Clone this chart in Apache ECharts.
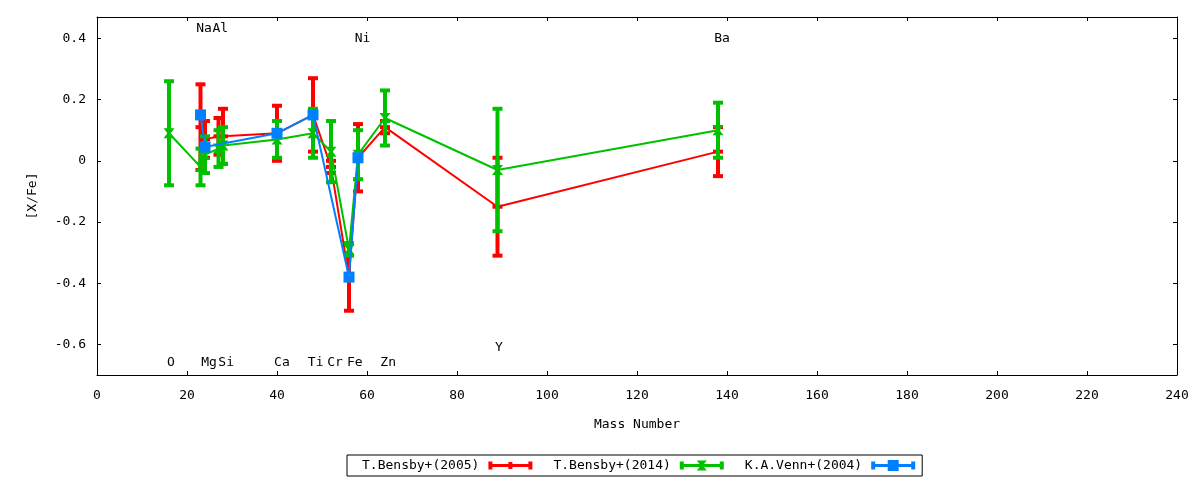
<!DOCTYPE html>
<html>
<head>
<meta charset="utf-8">
<script src="https://cdn.jsdelivr.net/npm/echarts@6/dist/echarts.min.js"></script>
<style>
  html, body { margin: 0; padding: 0; background: #fff; }
  #chart { width: 1200px; height: 480px; }
</style>
</head>
<body>
<div id="chart"></div>
<script>
// T.Bensby+(2005)
const redX = [23, 24, 27, 28, 40, 48, 52, 56, 58, 64, 89, 138];
const redY = [0.11, 0.07, 0.08, 0.08, 0.09, 0.15, -0.02, -0.38, 0.01, 0.11, -0.15, 0.03];
const redErr = [0.14, 0.06, 0.06, 0.09, 0.09, 0.12, 0.02, 0.11, 0.11, 0.02, 0.16, 0.08];

// T.Bensby+(2014)
const greenX = [16, 23, 24, 27, 28, 40, 48, 52, 56, 58, 64, 89, 138];
const greenY = [0.09, -0.02, 0.02, 0.04, 0.05, 0.07, 0.09, 0.03, -0.29, 0.02, 0.14, -0.03, 0.10];
const greenErr = [0.17, 0.06, 0.06, 0.06, 0.06, 0.06, 0.08, 0.10, 0.02, 0.08, 0.09, 0.20, 0.09];

// K.A.Venn+(2004)
const blueX = [23, 24, 40, 48, 56, 58];
const blueY = [0.15, 0.045, 0.09, 0.15, -0.38, 0.01];

// element labels
const labelNames = ['O', 'Na', 'Mg', 'Al', 'Si', 'Ca', 'Ti', 'Cr', 'Fe', 'Ni', 'Zn', 'Y', 'Ba'];
const labelX = [16.4, 23.8, 24.9, 27.4, 28.7, 41.1, 48.6, 52.9, 57.3, 59.0, 64.7, 89.3, 138.9];
const labelY = [-0.658, 0.432, -0.658, 0.432, -0.658, -0.658, -0.658, -0.658, -0.658, 0.40, -0.658, -0.611, 0.40];

const yTicks = [-0.6, -0.4, -0.2, 0, 0.2, 0.4];

const FONT = 'DejaVu Sans Mono';
const RED = '#ff0000', GREEN = '#00c000', BLUE = '#0080ff';

function errorBars(xs, ys, errs, color, z) {
  return {
    type: 'custom',
    z: z,
    silent: true,
    data: xs.map((x, i) => [x, ys[i] - errs[i], ys[i] + errs[i]]),
    encode: { x: 0, y: [1, 2] },
    renderItem: (params, api) => {
      const lo = api.coord([api.value(0), api.value(1)]);
      const hi = api.coord([api.value(0), api.value(2)]);
      const w = 5;
      const style = { stroke: color, lineWidth: 4 };
      return {
        type: 'group',
        children: [
          { type: 'line', shape: { x1: lo[0], y1: lo[1], x2: hi[0], y2: hi[1] }, style },
          { type: 'line', shape: { x1: lo[0] - w, y1: lo[1], x2: lo[0] + w, y2: lo[1] }, style },
          { type: 'line', shape: { x1: hi[0] - w, y1: hi[1], x2: hi[0] + w, y2: hi[1] }, style }
        ]
      };
    }
  };
}

const zip = (xs, ys) => xs.map((x, i) => [x, ys[i]]);

const barPath = 'M0,1.5H4V4H40V1.5H44V9.5H40V7H4V9.5H0Z';
const legendIcons = {
  red: 'path://' + barPath + 'M20,2H24V9H20Z',
  green: 'path://' + barPath + 'M17,0.5H27L23,5.5L27,10.5H17L21,5.5Z',
  blue: 'path://' + barPath + 'M16.5,0H27.5V11H16.5Z'
};

const axisLineStyle = { color: '#000', width: 1 };

const chart = echarts.init(document.getElementById('chart'));
chart.setOption({
  animation: false,
  backgroundColor: '#fff',
  textStyle: { fontFamily: FONT },
  grid: { left: 97, right: 23, top: 17, bottom: 105 },
  legend: {
    left: 347,
    top: 455,
    orient: 'horizontal',
    align: 'right',
    padding: [4, 7, 4, 15],
    itemGap: 21,
    itemWidth: 44,
    itemHeight: 11,
    borderColor: '#000',
    borderWidth: 1,
    borderRadius: 0,
    textStyle: { color: '#000', fontSize: 13, fontFamily: FONT, padding: [0, 4, 0, 0] },
    data: [
      { name: 'T.Bensby+(2005)', icon: legendIcons.red },
      { name: 'T.Bensby+(2014)', icon: legendIcons.green },
      { name: 'K.A.Venn+(2004)', icon: legendIcons.blue }
    ]
  },
  xAxis: [
    {
      type: 'value', min: 0, max: 240, interval: 20, position: 'bottom',
      name: 'Mass Number', nameLocation: 'middle', nameGap: 43,
      nameTextStyle: { color: '#000', fontSize: 13, fontFamily: FONT },
      axisLine: { show: true, onZero: false, lineStyle: axisLineStyle },
      axisTick: { show: true, inside: true, length: 4, lineStyle: axisLineStyle },
      axisLabel: { color: '#000', fontSize: 13, margin: 14, fontFamily: FONT },
      splitLine: { show: false }
    },
    {
      type: 'value', min: 0, max: 240, interval: 20, position: 'top',
      axisLine: { show: true, onZero: false, lineStyle: axisLineStyle },
      axisTick: { show: true, inside: true, length: 4, lineStyle: axisLineStyle },
      axisLabel: { show: false },
      splitLine: { show: false }
    }
  ],
  yAxis: [
    {
      type: 'value', min: -0.7, max: 0.47, position: 'left',
      name: '[X/Fe]', nameLocation: 'middle', nameGap: 58, nameRotate: 90,
      nameTextStyle: { color: '#000', fontSize: 13, fontFamily: FONT },
      axisLine: { show: true, onZero: false, lineStyle: axisLineStyle },
      axisTick: { show: true, inside: true, length: 4, lineStyle: axisLineStyle, customValues: yTicks },
      axisLabel: {
        color: '#000', fontSize: 13, margin: 11, fontFamily: FONT,
        customValues: yTicks,
        formatter: v => (Math.abs(v) < 1e-9 ? '0' : v.toFixed(1))
      },
      splitLine: { show: false }
    },
    {
      type: 'value', min: -0.7, max: 0.47, position: 'right',
      axisLine: { show: true, onZero: false, lineStyle: axisLineStyle },
      axisTick: { show: true, inside: true, length: 4, lineStyle: axisLineStyle, customValues: yTicks },
      axisLabel: { show: false },
      splitLine: { show: false }
    }
  ],
  series: [
    errorBars(redX, redY, redErr, RED, 2),
    {
      name: 'T.Bensby+(2005)', type: 'line', z: 3,
      data: zip(redX, redY),
      symbol: 'rect', symbolSize: [10, 4],
      itemStyle: { color: RED },
      lineStyle: { color: RED, width: 2 }
    },
    errorBars(greenX, greenY, greenErr, GREEN, 4),
    {
      name: 'T.Bensby+(2014)', type: 'line', z: 5,
      data: zip(greenX, greenY),
      symbol: 'path://M0,0H10L6.5,4.5L10,9H0L3.5,4.5Z', symbolSize: [11, 10],
      itemStyle: { color: GREEN },
      lineStyle: { color: GREEN, width: 2 }
    },
    {
      name: 'K.A.Venn+(2004)', type: 'line', z: 6,
      data: zip(blueX, blueY),
      symbol: 'rect', symbolSize: 11,
      itemStyle: { color: BLUE },
      lineStyle: { color: BLUE, width: 2 }
    },
    {
      type: 'custom', z: 7, silent: true,
      data: zip(labelX, labelY),
      encode: { x: 0, y: 1 },
      renderItem: (params, api) => {
        const p = api.coord([api.value(0), api.value(1)]);
        return {
          type: 'text', x: p[0], y: p[1],
          style: {
            text: labelNames[params.dataIndex], fill: '#000',
            fontSize: 13, fontFamily: FONT, align: 'center', verticalAlign: 'middle'
          }
        };
      }
    }
  ]
});
</script>
</body>
</html>
